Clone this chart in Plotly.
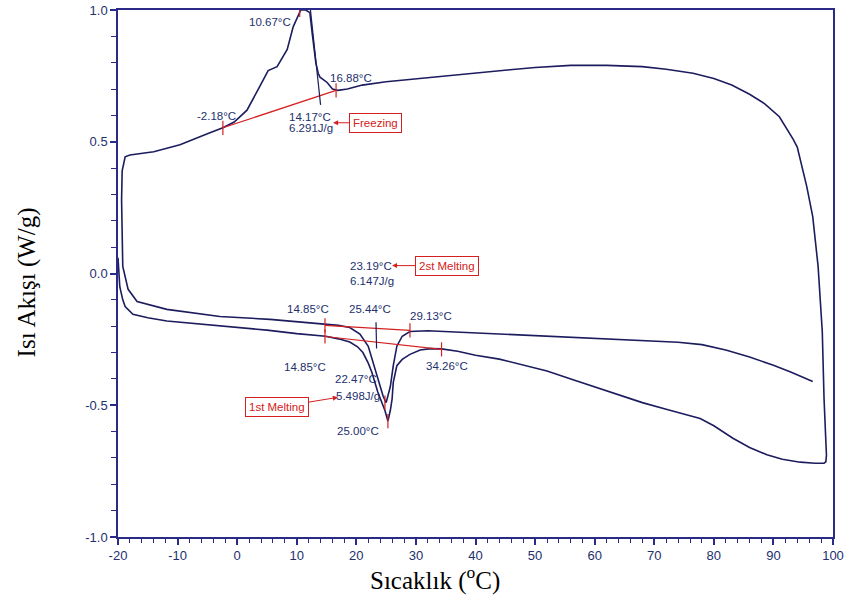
import plotly.graph_objects as go

# ---- data (temperature °C, heat flow W/g) ----
heat1_t = [-20, -19.7, -19.2, -18.8, -17.5, -15, -11.8, -8, -5, -2.9, 0, 5, 10, 14.85, 17, 18.9,
           20.2, 21.1, 22.0, 22.6, 23.6, 24.4, 24.8, 25.3, 25.7, 26.0, 26.2, 26.8, 27.7, 29.0,
           30.7, 32.5, 34.3, 37, 40, 44, 47.5, 52, 56, 60, 64, 68, 72, 75, 77.7, 80, 83.2, 86,
           88.9, 91.5, 94.5, 97, 98.5, 98.8]
heat1_q = [0.06, -0.05, -0.10, -0.125, -0.155, -0.168, -0.18, -0.188, -0.193, -0.197, -0.205,
           -0.215, -0.228, -0.238, -0.248, -0.26, -0.278, -0.30, -0.34, -0.375, -0.45, -0.50,
           -0.52, -0.56, -0.52, -0.477, -0.413, -0.35, -0.326, -0.307, -0.29, -0.285, -0.286,
           -0.295, -0.31, -0.325, -0.345, -0.37, -0.40, -0.43, -0.46, -0.49, -0.515, -0.532,
           -0.55, -0.578, -0.625, -0.66, -0.688, -0.705, -0.716, -0.72, -0.72, -0.715]

cool_t = [98.9, 98.5, 98.2, 97.5, 96.6, 95.6, 94.0, 93.3, 91.0, 88.5, 86, 83, 80, 76.5, 72, 68,
          62, 56, 50, 45.8, 40, 35, 29, 25, 21, 18.5, 16.9, 16.0, 15.1, 13.9, 13.6, 13.2, 12.6,
          12.2, 11.5, 10.67, 9.4, 8.4, 6.7, 5.2, 3.8, 1.65, -0.5, -2.4, -5, -9.6, -14, -18,
          -18.8, -19.0, -19.3]
cool_q = [-0.69, -0.477, -0.22, 0.027, 0.216, 0.33, 0.48, 0.51, 0.595, 0.645, 0.68, 0.715, 0.74,
          0.76, 0.775, 0.785, 0.79, 0.79, 0.782, 0.773, 0.76, 0.75, 0.737, 0.728, 0.715, 0.70,
          0.695, 0.70, 0.725, 0.745, 0.76, 0.80, 0.91, 0.99, 1.0, 1.0, 0.936, 0.85, 0.785, 0.77,
          0.71, 0.62, 0.575, 0.553, 0.53, 0.489, 0.462, 0.45, 0.443, 0.42, 0.39]

heat2_t = [-19.4, -19.3, -19.2, -18.3, -16.8, -11.8, -2.9, 5.5, 10, 14.85, 17, 18.9, 20.6, 22.0,
           22.8, 23.6, 24.5, 25.0, 25.7, 26.2, 26.8, 27.7, 29.0, 32, 40, 47.5, 55, 65, 70, 74,
           78, 82, 86, 90, 93, 96.6]
heat2_q = [0.28, 0.10, 0.027, -0.06, -0.106, -0.136, -0.163, -0.174, -0.183, -0.19, -0.197,
           -0.205, -0.23, -0.276, -0.337, -0.40, -0.466, -0.49, -0.43, -0.35, -0.276, -0.238,
           -0.22, -0.217, -0.225, -0.235, -0.242, -0.25, -0.255, -0.261, -0.27, -0.29, -0.317,
           -0.348, -0.375, -0.41]

# analysis baselines (start/end points) and marker ticks
freeze_base_t = [-2.4, 16.6]
freeze_base_q = [0.553, 0.695]
melt2_base_t = [14.74, 29.0]
melt2_base_q = [-0.197, -0.216]
melt1_base_t = [14.74, 34.3]
melt1_base_q = [-0.239, -0.288]
extra_tick_t = [10.5, 24.8, 25.3]
extra_tick_q = [1.0, -0.49, -0.56]
tangent_t = [[12.3, 14.0], [23.3, 23.4]]
tangent_q = [[1.0, 0.64], [-0.185, -0.285]]

x_ticks = [-20, -10, 0, 10, 20, 30, 40, 50, 60, 70, 80, 90, 100]
y_ticks = [-1.0, -0.5, 0.0, 0.5, 1.0]

NAVY = "#1c1c5e"
AXIS = "#2a2a88"
RED = "#d42020"
TXT = "#23306e"

fig = go.Figure()

# main curve: 1st heating -> cooling -> 2nd heating
main_t = heat1_t + cool_t + heat2_t
main_q = heat1_q + cool_q + heat2_q
fig.add_trace(go.Scatter(x=main_t, y=main_q, mode="lines",
                         line=dict(color=NAVY, width=1.6), hoverinfo="skip"))

# red baselines with end ticks
TK = 0.027
rx, ry = [], []
for bt, bq in [(freeze_base_t, freeze_base_q), (melt2_base_t, melt2_base_q),
               (melt1_base_t, melt1_base_q)]:
    rx += bt + [None]
    ry += bq + [None]
    for t, q in zip(bt, bq):
        rx += [t, t, None]
        ry += [q - TK, q + TK, None]
for t, q in zip(extra_tick_t, extra_tick_q):
    rx += [t, t, None]
    ry += [q - TK, q + TK, None]
fig.add_trace(go.Scatter(x=rx, y=ry, mode="lines", line=dict(color=RED, width=1.2),
                         hoverinfo="skip"))

# black tangent lines
tx, ty = [], []
for t, q in zip(tangent_t, tangent_q):
    tx += t + [None]
    ty += q + [None]
fig.add_trace(go.Scatter(x=tx, y=ty, mode="lines", line=dict(color=NAVY, width=1.2),
                         hoverinfo="skip"))

# text labels
labels = [
    ("10.67°C", 5.5, 0.955), ("16.88°C", 19.1, 0.742), ("-2.18°C", -3.4, 0.598),
    ("14.17°C", 12.2, 0.595), ("6.291J/g", 12.4, 0.553),
    ("23.19°C", 22.5, 0.03), ("6.147J/g", 22.6, -0.03),
    ("14.85°C", 11.9, -0.136), ("25.44°C", 22.3, -0.136), ("29.13°C", 32.5, -0.163),
    ("14.85°C", 11.4, -0.356), ("34.26°C", 35.2, -0.352),
    ("22.47°C", 19.9, -0.40), ("5.498J/g", 20.3, -0.466), ("25.00°C", 20.3, -0.598),
]
for txt, x, y in labels:
    fig.add_annotation(x=x, y=y, text=txt, showarrow=False,
                       font=dict(family="Liberation Sans, Arial", size=11.5, color=TXT))

# boxed labels with arrows (tip position, offset of box)
boxes = [("Freezing", 16.1, 0.572, 42, 0), ("2st Melting", 26.0, 0.03, 55, 0),
         ("1st Melting", 16.9, -0.47, -61, 10)]
for txt, x, y, ax, ay in boxes:
    fig.add_annotation(x=x, y=y, ax=ax, ay=ay, text=txt, showarrow=True,
                       arrowhead=2, arrowsize=1, arrowwidth=1, arrowcolor=RED,
                       bordercolor=RED, borderwidth=1, borderpad=3, bgcolor="white",
                       font=dict(family="Liberation Sans, Arial", size=11.5, color=RED))

# axis titles
fig.add_annotation(xref="paper", yref="paper", x=-0.128, y=0.484, text="Isı Akışı (W/g)",
                   textangle=-90, showarrow=False, xanchor="center", yanchor="middle",
                   font=dict(family="Liberation Serif, Times New Roman", size=25, color="black"))
fig.add_annotation(xref="paper", yref="paper", x=0.443, y=-0.078,
                   text="Sıcaklık (<sup>o</sup>C)", showarrow=False, yanchor="middle",
                   font=dict(family="Liberation Serif, Times New Roman", size=25, color="black"))

fig.update_xaxes(range=[-20, 100], tickvals=x_ticks, ticktext=[str(v) for v in x_ticks],
                 automargin=False,
                 showgrid=False, zeroline=False, showline=True, linecolor=AXIS, linewidth=1.5,
                 mirror=True, ticks="outside", ticklen=6, tickcolor=AXIS, tickwidth=1.5,
                 minor=dict(dtick=2, ticks="outside", ticklen=4, tickcolor=AXIS, tickwidth=1.2),
                 tickfont=dict(family="Liberation Sans, Arial", size=13, color=TXT))
fig.update_yaxes(range=[-1.0, 1.0], tickvals=y_ticks, ticktext=[f"{v:.1f}" for v in y_ticks],
                 automargin=False,
                 showgrid=False, zeroline=False, showline=True, linecolor=AXIS, linewidth=1.5,
                 mirror=True, ticks="outside", ticklen=6, tickcolor=AXIS, tickwidth=1.5,
                 minor=dict(dtick=0.1, ticks="outside", ticklen=5, tickcolor=AXIS, tickwidth=1.2),
                 tickfont=dict(family="Liberation Sans, Arial", size=13, color=TXT))

fig.update_layout(width=845, height=599, margin=dict(l=118, r=12, t=10, b=62),
                  plot_bgcolor="white", paper_bgcolor="white", showlegend=False)

fig.write_html("out.html", config={"displayModeBar": False},
               post_script="document.body.style.margin='0px';")
